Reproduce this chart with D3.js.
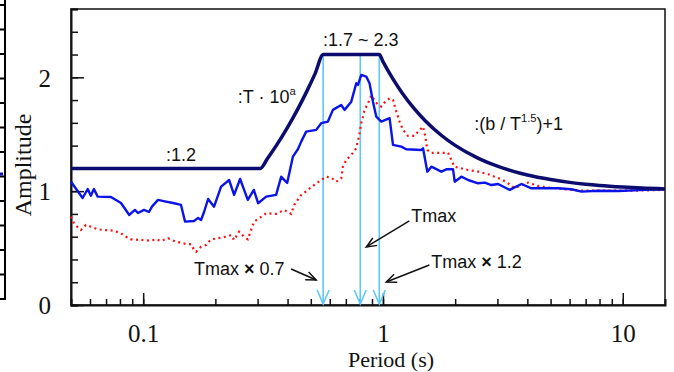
<!DOCTYPE html>
<html>
<head>
<meta charset="utf-8">
<script src="https://cdn.jsdelivr.net/npm/d3@7"></script>
<style>
  body { margin: 0; background: #fff; }
  svg { display: block; }
</style>
</head>
<body>
<div id="chart"></div>
<script>
// observed response spectrum (blue solid)
const obsPeriod = [0.05, 0.0559, 0.0587, 0.0605, 0.0623, 0.0646, 0.0734, 0.0808, 0.0875, 0.0924, 0.0951, 0.1008, 0.1057, 0.1088, 0.1153, 0.1245, 0.1332, 0.1438, 0.1495, 0.163, 0.1694, 0.1743, 0.1794, 0.1865, 0.1975, 0.2113, 0.2282, 0.2394, 0.2536, 0.2731, 0.2893, 0.3015, 0.3256, 0.3584, 0.3761, 0.3985, 0.421, 0.4417, 0.456, 0.4784, 0.5267, 0.5526, 0.5893, 0.6183, 0.6696, 0.6914, 0.7375, 0.7738, 0.7865, 0.8118, 0.8517, 0.879, 0.9083, 0.9376, 0.9838, 1.0655, 1.101, 1.192, 1.251, 1.445, 1.469, 1.531, 1.591, 1.752, 1.838, 1.96, 1.991, 2.123, 2.264, 2.493, 2.657, 2.833, 3.021, 3.378, 3.78, 4.161, 4.716, 5.379, 6.113, 6.73, 7.901, 9.576, 12.37, 15];
const obsAmp = [1.083, 0.94, 1.019, 0.96, 1.019, 0.952, 0.949, 0.896, 0.791, 0.835, 0.808, 0.835, 0.817, 0.864, 0.923, 0.908, 0.896, 0.879, 0.732, 0.738, 0.765, 0.747, 0.817, 0.931, 0.864, 1.04, 1.098, 0.967, 1.107, 0.923, 1.011, 0.894, 0.952, 0.967, 1.127, 1.072, 1.303, 1.368, 1.435, 1.523, 1.538, 1.597, 1.611, 1.714, 1.757, 1.714, 1.786, 1.948, 1.933, 2.021, 2.006, 1.948, 1.786, 1.655, 1.611, 1.641, 1.406, 1.391, 1.368, 1.362, 1.377, 1.171, 1.215, 1.171, 1.192, 1.192, 1.083, 1.127, 1.098, 1.069, 1.075, 1.054, 1.063, 1.011, 1.063, 1.025, 1.025, 1.025, 1.017, 0.996, 1.004, 1.002, 1.011, 1.017];

// second spectrum (red dotted)
const refPeriod = [0.05, 0.0514, 0.0533, 0.055, 0.0577, 0.0605, 0.0646, 0.0686, 0.0755, 0.0808, 0.0848, 0.0889, 0.0979, 0.1078, 0.1131, 0.1187, 0.1269, 0.1371, 0.151, 0.1583, 0.163, 0.1662, 0.1743, 0.1829, 0.1919, 0.2047, 0.2217, 0.2326, 0.2394, 0.2512, 0.2636, 0.2731, 0.2819, 0.2902, 0.3045, 0.3256, 0.3584, 0.3872, 0.4142, 0.4263, 0.456, 0.4863, 0.5166, 0.5526, 0.5798, 0.6083, 0.6383, 0.6696, 0.6808, 0.7028, 0.7375, 0.7738, 0.7963, 0.8118, 0.825, 0.8378, 0.8659, 0.8936, 0.9199, 0.9531, 0.9838, 1.0155, 1.0655, 1.101, 1.1364, 1.173, 1.212, 1.272, 1.351, 1.422, 1.469, 1.502, 1.531, 1.591, 1.752, 1.868, 1.928, 1.985, 2.264, 2.493, 2.744, 2.916, 3.119, 3.325, 3.533, 3.78, 4.031, 4.439, 4.886, 5.379, 6.113, 6.926, 8.155, 10.88, 15];
const refAmp = [0.776, 0.721, 0.683, 0.659, 0.703, 0.688, 0.665, 0.659, 0.653, 0.63, 0.6, 0.577, 0.571, 0.565, 0.577, 0.562, 0.586, 0.556, 0.536, 0.533, 0.483, 0.468, 0.512, 0.527, 0.577, 0.586, 0.6, 0.615, 0.571, 0.644, 0.6, 0.577, 0.659, 0.732, 0.762, 0.806, 0.8, 0.835, 0.8, 0.879, 0.967, 1.011, 1.054, 1.098, 1.127, 1.119, 1.083, 1.113, 1.215, 1.274, 1.318, 1.377, 1.494, 1.597, 1.655, 1.714, 1.772, 1.841, 1.801, 1.757, 1.743, 1.778, 1.816, 1.801, 1.699, 1.611, 1.538, 1.485, 1.485, 1.538, 1.567, 1.479, 1.362, 1.336, 1.336, 1.338, 1.274, 1.215, 1.186, 1.171, 1.149, 1.127, 1.105, 1.069, 1.025, 1.054, 1.075, 1.046, 1.031, 1.025, 1.011, 1.004, 1.004, 1.004, 1.011];

// design spectrum envelope (navy)
const designPeriod = [0.05, 0.308, 0.33, 0.36, 0.4, 0.44, 0.48, 0.52, 0.564, 0.965, 1.0, 1.1, 1.2, 1.35, 1.5, 1.75, 2, 2.5, 3, 3.5, 4, 5, 6, 7, 8, 10, 12, 15];
const designAmp = [1.2, 1.2, 1.287, 1.404, 1.56, 1.716, 1.872, 2.028, 2.2, 2.2, 2.138, 1.986, 1.865, 1.725, 1.619, 1.491, 1.402, 1.288, 1.219, 1.174, 1.142, 1.102, 1.077, 1.061, 1.05, 1.036, 1.027, 1.02];

// Tmax markers
const markerPeriod = [0.563, 0.804, 0.965];
const markerTop = 2.2;

const periodLabels = [0.1, 1, 10];
const ampLabels = [0, 1, 2];

const width = 674;
const height = 372;
const margin = { top: 9, right: 9, bottom: 67, left: 71 };

const svg = d3.select('#chart')
  .append('svg')
  .attr('width', width)
  .attr('height', height);

const x = d3.scaleLog()
  .domain([0.05, 15])
  .range([margin.left, width - margin.right]);

const y = d3.scaleLinear()
  .domain([0, 2.6])
  .range([height - margin.bottom, margin.top]);

const serif = '"Liberation Serif", "Times New Roman", serif';
const sans = '"Liberation Sans", Arial, sans-serif';

// piece of the neighbouring panel on the far left
const frag = svg.append('g').attr('stroke', '#000').attr('stroke-width', 2);
frag.append('line').attr('x1', 5).attr('x2', 5).attr('y1', 0).attr('y2', 300);
d3.range(13).forEach(i => {
  const yy = 5 + i * 24.5;
  frag.append('line').attr('x1', 0).attr('x2', 5).attr('y1', yy).attr('y2', yy);
});
svg.append('line').attr('x1', 0).attr('x2', 3).attr('y1', 174).attr('y2', 174)
  .attr('stroke', '#1010c0').attr('stroke-width', 3);

// frame
svg.append('rect')
  .attr('x', margin.left)
  .attr('y', margin.top)
  .attr('width', width - margin.left - margin.right)
  .attr('height', height - margin.top - margin.bottom)
  .attr('fill', 'none')
  .attr('stroke', '#111')
  .attr('stroke-width', 1.5);

// x axis: ticks point inwards
const xAxis = d3.axisBottom(x)
  .tickValues(x.ticks().filter(t => t >= 0.06))
  .tickSize(-6)
  .tickFormat('');
const gx = svg.append('g')
  .attr('transform', `translate(0,${height - margin.bottom})`)
  .call(xAxis);
gx.select('.domain').attr('stroke', '#111').attr('stroke-width', 2);
gx.selectAll('.tick line').attr('stroke', '#111').attr('stroke-width', 1.5);

const gxMajor = svg.append('g')
  .attr('transform', `translate(0,${height - margin.bottom})`)
  .call(d3.axisBottom(x).tickValues(periodLabels).tickSize(-12).tickPadding(19).tickFormat(d3.format('~g')));
gxMajor.select('.domain').remove();
gxMajor.selectAll('.tick line').attr('stroke', '#111').attr('stroke-width', 1.5);
gxMajor.selectAll('.tick text')
  .attr('font-family', serif)
  .attr('font-size', 25)
  .attr('fill', '#111');

// y axis
const gy = svg.append('g')
  .attr('transform', `translate(${margin.left},0)`)
  .call(d3.axisLeft(y).tickValues(d3.range(0, 2.61, 0.2)).tickSize(-7).tickFormat(''));
gy.select('.domain').attr('stroke', '#111').attr('stroke-width', 2);
gy.selectAll('.tick line').attr('stroke', '#111').attr('stroke-width', 1.5);

const gyMajor = svg.append('g')
  .attr('transform', `translate(${margin.left},0)`)
  .call(d3.axisLeft(y).tickValues(ampLabels).tickSize(-13).tickPadding(20).tickFormat(d3.format('d')));
gyMajor.select('.domain').remove();
gyMajor.selectAll('.tick line').attr('stroke', '#111').attr('stroke-width', 1.5);
gyMajor.selectAll('.tick text')
  .attr('font-family', serif)
  .attr('font-size', 25)
  .attr('fill', '#111')
  .attr('dy', '0.35em');

// axis titles
svg.append('text')
  .attr('x', (margin.left + width - margin.right) / 2 + 23)
  .attr('y', 367)
  .attr('text-anchor', 'middle')
  .attr('font-family', serif)
  .attr('font-size', 22)
  .attr('fill', '#111')
  .text('Period (s)');

svg.append('text')
  .attr('transform', `translate(31,165) rotate(-90)`)
  .attr('text-anchor', 'middle')
  .attr('font-family', serif)
  .attr('font-size', 24)
  .attr('fill', '#111')
  .text('Amplitude');

const line = d3.line()
  .x(d => x(d[0]))
  .y(d => y(d[1]));

const plot = svg.append('g');

// cyan markers with open arrowheads at the axis
markerPeriod.forEach(t => {
  const px = x(t);
  const base = y(0) - 1;
  plot.append('line')
    .attr('x1', px).attr('x2', px)
    .attr('y1', y(markerTop)).attr('y2', base)
    .attr('stroke', '#5ec8f8').attr('stroke-width', 1.6);
  plot.append('path')
    .attr('d', `M${px - 6},${base - 14}L${px},${base}L${px + 6},${base - 14}`)
    .attr('fill', 'none')
    .attr('stroke', '#5ec8f8').attr('stroke-width', 1.6);
});

plot.append('path')
  .datum(d3.zip(refPeriod, refAmp))
  .attr('d', line)
  .attr('fill', 'none')
  .attr('stroke', '#ff1010')
  .attr('stroke-width', 2.2)
  .attr('stroke-dasharray', '2 3.5');

plot.append('path')
  .datum(d3.zip(obsPeriod, obsAmp))
  .attr('d', line)
  .attr('fill', 'none')
  .attr('stroke', '#0a14e6')
  .attr('stroke-width', 2.4)
  .attr('stroke-linejoin', 'round');

plot.append('path')
  .datum(d3.zip(designPeriod, designAmp))
  .attr('d', line.curve(d3.curveMonotoneX))
  .attr('fill', 'none')
  .attr('stroke', '#0c0c6e')
  .attr('stroke-width', 3.5);

// annotations
function label(t, a, parts, size) {
  const txt = svg.append('text')
    .attr('x', x(t))
    .attr('y', y(a))
    .attr('font-family', sans)
    .attr('font-size', size)
    .attr('fill', '#111');
  parts.forEach(p => {
    const ts = txt.append('tspan').text(p.s);
    if (p.sup) ts.attr('font-size', size * 0.62).attr('dy', -8);
    if (p.down) ts.attr('dy', 8);
    if (p.bold) ts.attr('font-weight', 'bold');
  });
}

label(0.1245, 1.265, [{ s: ':1.2' }], 18);
label(0.248, 1.775, [{ s: ':T · 10' }, { s: 'a', sup: true }], 18);
label(0.5615, 2.276, [{ s: ':1.7 ~ 2.3' }], 18);
label(2.405, 1.538, [{ s: ':(b / T' }, { s: '1.5', sup: true }, { s: ')+1', down: true }], 18);
label(1.313, 0.732, [{ s: 'Tmax' }], 18);
label(1.591, 0.325, [{ s: 'Tmax ' }, { s: '×', bold: true }, { s: ' 1.2' }], 18);
label(0.163, 0.264, [{ s: 'Tmax ' }, { s: '×', bold: true }, { s: ' 0.7' }], 18);

function arrow(t0, a0, t1, a1) {
  const x0 = x(t0), y0 = y(a0), x1 = x(t1), y1 = y(a1);
  const ang = Math.atan2(y1 - y0, x1 - x0);
  const len = 11, spread = 0.4;
  svg.append('line')
    .attr('x1', x0).attr('y1', y0).attr('x2', x1).attr('y2', y1)
    .attr('stroke', '#111').attr('stroke-width', 1.5);
  svg.append('path')
    .attr('d', `M${x1 - len * Math.cos(ang - spread)},${y1 - len * Math.sin(ang - spread)}L${x1},${y1}L${x1 - len * Math.cos(ang + spread)},${y1 - len * Math.sin(ang + spread)}`)
    .attr('fill', 'none')
    .attr('stroke', '#111').attr('stroke-width', 1.5);
}

arrow(1.288, 0.738, 0.852, 0.51);
arrow(1.561, 0.351, 1.032, 0.202);
arrow(0.414, 0.316, 0.5265, 0.22);
</script>
</body>
</html>
